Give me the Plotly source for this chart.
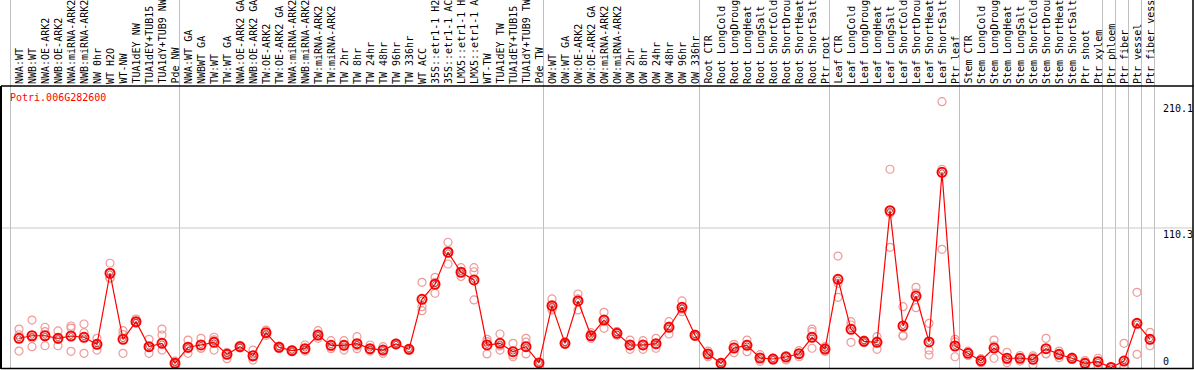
import plotly.graph_objects as go

categories = [
    "NWA:WT", "NWB:WT", "NWA:OE-ARK2", "NWB:OE-ARK2", "NWA:miRNA-ARK2", "NWB:miRNA-ARK2",
    "NW 0hr", "WT H2O", "WT-NW", "TUA1dEY NW", "TUA1dEY+TUB15", "TUA1dY+TUB9 NW", "Pde NW",
    "NWA:WT GA", "NWBWT GA", "TW:WT", "TW:WT GA", "NWA:OE-ARK2 GA", "NWB:OE-ARK2 GA",
    "TW:OE-ARK2", "TW:OE-ARK2 GA", "NWA:miRNA-ARK2", "NWB:miRNA-ARK2", "TW:miRNA-ARK2",
    "TW:miRNA-ARK2", "TW 2hr", "TW 8hr", "TW 24hr", "TW 48hr", "TW 96hr", "TW 336hr",
    "WT ACC", "35S::etr1-1 H2", "35S::etr1-1 AC", "LMX5::etr1-1 H", "LMX5::etr1-1 A",
    "WT-TW", "TUA1dEY TW", "TUA1dEY+TUB15", "TUA1dY+TUB9 TW", "Pde TW",
    "OW:WT", "OW:WT GA", "OW:OE-ARK2", "OW:OE-ARK2 GA", "OW:miRNA-ARK2", "OW:miRNA-ARK2",
    "OW 2hr", "OW 8hr", "OW 24hr", "OW 48hr", "OW 96hr", "OW 336hr",
    "Root CTR", "Root LongCold", "Root LongDroug", "Root LongHeat", "Root LongSalt",
    "Root ShortCold", "Root ShortDrou", "Root ShortHeat", "Root ShortSalt", "Ptr root",
    "Leaf CTR", "Leaf LongCold", "Leaf LongDroug", "Leaf LongHeat", "Leaf LongSalt",
    "Leaf ShortCold", "Leaf ShortDrou", "Leaf ShortHeat", "Leaf ShortSalt", "Ptr leaf",
    "Stem CTR", "Stem LongCold", "Stem LongDroug", "Stem LongHeat", "Stem LongSalt",
    "Stem ShortCold", "Stem ShortDrou", "Stem ShortHeat", "Stem ShortSalt", "Ptr shoot",
    "Ptr xylem", "Ptr phloem", "Ptr fiber", "Ptr vessel", "Ptr fiber vess",
]

mean_values = [
    23.1, 25.1, 25.1, 23.1, 24.9, 23.9, 18.3, 74.5, 22.3, 36.2, 16.5, 19.1, 3.3,
    16.0, 17.8, 19.9, 10.4, 16.5, 9.3, 27.5, 16.0, 13.3, 14.9, 25.7, 17.5, 17.5,
    18.8, 14.9, 13.8, 18.6, 14.4, 53.9, 65.8, 91.1, 75.3, 69.2, 17.8, 19.1, 12.5,
    16.5, 3.6,
    48.9, 19.1, 52.6, 25.1, 37.5, 27.0, 17.8, 17.8, 18.8, 31.8, 47.6, 25.5,
    10.7, 3.3, 15.4, 17.5, 7.5, 6.7, 8.3, 10.9, 23.9, 14.6,
    69.7, 30.2, 20.7, 19.9, 124.0, 32.8, 56.5, 20.2, 154.3, 17.0,
    11.2, 5.4, 15.4, 7.3, 7.3, 6.5, 14.9, 10.4, 7.3, 3.3,
    4.6, 0.0, 5.1, 34.9, 22.3,
]

rep_a = [
    30.4, 37.5, 31.8, 28.9, 32.8, 34.4, 23.1, 82.4, 29.1, 38.3, 22.3, 30.4, 5.0,
    21.7, 23.1, 23.9, 12.0, 17.5, 13.8, 29.6, 17.0, 14.0, 17.8, 29.1, 21.2, 21.2,
    24.4, 17.8, 16.5, 19.2, 15.0, 67.3, 71.3, 99.0, 78.9, 78.9, 22.3, 26.5, 19.1,
    23.1, 4.0,
    54.2, 20.4, 58.1, 27.5, 43.6, 28.5, 21.7, 21.2, 23.1, 36.2, 52.6, 26.5,
    13.0, 4.0, 18.3, 21.7, 10.1, 7.5, 9.5, 13.3, 30.4, 16.5,
    88.1, 36.2, 21.7, 24.4, 156.7, 48.1, 63.4, 34.9, 210.1, 20.2,
    12.9, 7.0, 21.7, 12.0, 9.5, 9.3, 23.1, 13.0, 8.2, 5.5,
    7.3, 0.5, 19.1, 59.4, 27.8,
]

rep_b = [
    25.9, 23.1, 28.3, 22.3, 31.2, 27.5, 18.0, 70.5, 26.0, 34.9, 16.0, 25.7, 2.0,
    15.0, 15.2, 21.9, 10.4, 16.5, 8.2, 27.5, 16.0, 13.3, 14.0, 25.0, 16.4, 17.5,
    17.1, 14.0, 13.8, 18.6, 14.4, 48.1, 67.4, 92.5, 75.0, 75.7, 20.4, 17.0, 8.5,
    20.0, 3.6,
    47.0, 18.5, 54.2, 24.7, 37.9, 27.0, 17.3, 17.8, 18.1, 32.7, 46.1, 25.5,
    10.7, 3.3, 16.2, 18.3, 7.5, 6.7, 8.3, 10.9, 28.3, 14.6,
    66.6, 33.6, 20.7, 21.0, 121.9, 25.4, 58.8, 13.8, 156.7, 22.3,
    11.2, 5.4, 17.2, 6.0, 7.3, 8.2, 11.0, 10.4, 7.3, 3.3,
    5.1, 0.0, 0.3, 34.9, 21.9,
]

rep_c = [
    13.0, 16.5, 17.2, 17.2, 12.8, 11.2, 13.8, 70.6, 11.2, 35.4, 11.2, 13.8, 3.3,
    11.2, 15.2, 13.8, 7.0, 15.5, 5.9, 25.4, 15.0, 12.6, 13.0, 23.1, 14.9, 13.8,
    14.9, 13.0, 11.2, 17.9, 13.8, 44.9, 58.7, 81.8, 72.0, 53.4, 10.7, 13.8, 9.9,
    10.7, 3.2,
    45.5, 18.4, 45.5, 23.1, 31.0, 25.5, 14.4, 14.4, 15.2, 26.5, 44.1, 24.5,
    8.4, 2.6, 11.7, 12.5, 4.9, 5.9, 6.0, 8.5, 15.2, 12.7,
    55.5, 19.9, 19.7, 14.4, 95.0, 24.9, 47.3, 9.9, 93.4, 8.5,
    9.5, 3.8, 7.3, 3.9, 5.1, 2.0, 10.7, 7.8, 6.4, 1.1,
    1.4, 0.0, 0.0, 10.4, 17.2,
]

gene_name = "Potri.006G282600"
ytick_values = [210.1, 110.3, 0]
ytick_labels = ["210.1", "110.3", "0"]
group_ends = [-1, 12, 40, 52, 62, 72, 83, 84, 85, 86, 87]

# ---- layout geometry (pixels) ----
W, H = 1194, 370
PL, PR, PT, PB = 1, 1193, 86, 369          # plot area box
X0_PIX, DX_PIX = 19.0, 13.0                 # first category centre, spacing
Y0_PIX, KY = 367.5, 1.265                   # pixel of value 0, px per unit

x_range = [(PL - X0_PIX) / DX_PIX, (PR - X0_PIX) / DX_PIX]
y_range = [(Y0_PIX - PB) / KY, (Y0_PIX - PT) / KY]


def px_x(p):
    return (p - PL) / (PR - PL)


def px_y(p):
    return (PB - p) / (PB - PT)


idx = list(range(len(categories)))
MONO = "DejaVu Sans Mono"

fig = go.Figure()

rep_color = "#ee9a9a"
for reps in (rep_a, rep_b, rep_c):
    fig.add_trace(go.Scatter(
        x=idx, y=reps, mode="markers",
        marker=dict(symbol="circle-open", size=8, color=rep_color, line=dict(width=1.2, color=rep_color)),
        hoverinfo="skip", showlegend=False,
    ))

fig.add_trace(go.Scatter(
    x=idx, y=mean_values, mode="lines+markers",
    line=dict(color="#ff0000", width=1.2),
    marker=dict(symbol="circle-open", size=9, color="#ff0000", line=dict(width=2, color="#ff0000")),
    showlegend=False,
))
fig.add_trace(go.Scatter(
    x=idx, y=mean_values, mode="markers",
    marker=dict(symbol="circle-open", size=5, color="#7a0000", line=dict(width=0.6, color="#7a0000")),
    showlegend=False, hoverinfo="skip",
))

shapes = []
# horizontal grid line
shapes.append(dict(type="line", xref="paper", yref="y", x0=0, x1=1, y0=110.3, y1=110.3,
                   line=dict(color="#c8c8c8", width=1), layer="below"))
# vertical group separators through label area and plot area
for g in group_ends:
    xs = g + 4.5 / DX_PIX
    shapes.append(dict(type="line", xref="x", yref="paper", x0=xs, x1=xs, y0=0, y1=px_y(0),
                       line=dict(color="#c0c0c0", width=1), layer="below"))
# borders
shapes.append(dict(type="line", xref="paper", yref="paper", x0=px_x(1), x1=px_x(PR + 0.5), y0=px_y(PT), y1=px_y(PT),
                   line=dict(color="black", width=1.5)))
shapes.append(dict(type="line", xref="paper", yref="paper", x0=px_x(1), x1=px_x(PR + 0.5), y0=px_y(PB - 0.5), y1=px_y(PB - 0.5),
                   line=dict(color="black", width=1.5)))
shapes.append(dict(type="line", xref="paper", yref="paper", x0=px_x(1), x1=px_x(1), y0=px_y(PT), y1=px_y(PB),
                   line=dict(color="black", width=2)))
shapes.append(dict(type="line", xref="paper", yref="paper", x0=px_x(PR), x1=px_x(PR), y0=px_y(0), y1=px_y(PB),
                   line=dict(color="black", width=1.5)))

annotations = []
for i, lab in enumerate(categories):
    annotations.append(dict(
        x=i, xref="x", y=px_y(85), yref="paper", text=lab, textangle=-90,
        showarrow=False, xanchor="center", yanchor="bottom",
        font=dict(family=MONO, size=10, color="black"), borderpad=0,
    ))
for v, t in zip(ytick_values, ytick_labels):
    annotations.append(dict(
        x=px_x(1162), xref="paper", y=v, yref="y", text=t, showarrow=False,
        xanchor="left", yanchor="bottom" if v == 0 else "top",
        font=dict(family=MONO, size=10, color="black"), borderpad=0,
    ))
annotations.append(dict(
    x=px_x(9), xref="paper", y=px_y(91), yref="paper", text=gene_name, showarrow=False,
    xanchor="left", yanchor="top", font=dict(family=MONO, size=10, color="#ff0000"), borderpad=0,
))

fig.update_layout(
    width=W, height=H,
    margin=dict(l=PL, r=W - PR, t=PT, b=H - PB, pad=0),
    paper_bgcolor="white", plot_bgcolor="white",
    xaxis=dict(range=x_range, showgrid=False, zeroline=False, showticklabels=False, ticks="", showline=False),
    yaxis=dict(range=y_range, showgrid=False, zeroline=False, showticklabels=False, ticks="", showline=False),
    shapes=shapes, annotations=annotations, showlegend=False,
)

fig.write_html(
    "out.html",
    config={"displayModeBar": False},
    post_script="document.body.style.margin='0px';document.body.style.padding='0px';",
)
